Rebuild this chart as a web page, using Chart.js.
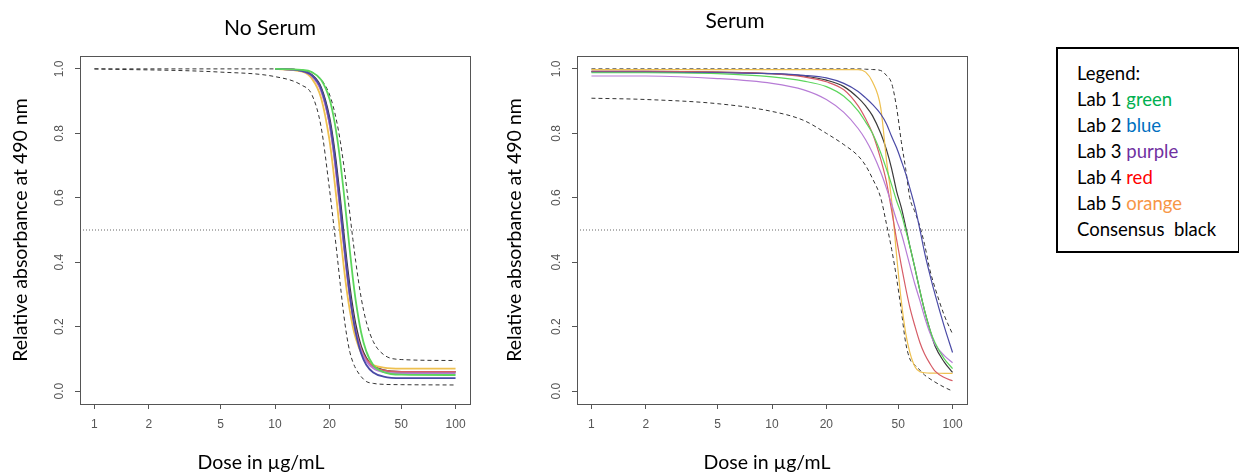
<!DOCTYPE html>
<html>
<head>
<meta charset="utf-8">
<title>No Serum / Serum</title>
<script src="https://cdn.jsdelivr.net/npm/chart.js"></script>
<style>
    body { margin: 0; width: 1239px; height: 474px; background: #fff; position: relative; overflow: hidden; font-family: Lato, sans-serif; }
    canvas { position: absolute; top: 0; }
    .lbl { position: absolute; transform: translate(-50%, -50%); white-space: nowrap; line-height: 1; color: #000; }
    .legend { position: absolute; left: 1056px; top: 47px; width: 184px; height: 206px; box-sizing: border-box;
              border: 2px solid #000; padding: 11px 0 0 19px; font-size: 18.5px; line-height: 26px; white-space: pre; }
</style>
</head>
<body>
<canvas id="chart" width="480" height="474" style="left:0"></canvas>
<canvas id="chart2" width="500" height="474" style="left:480px"></canvas>

<div class="lbl" style="left:270px; top:26px; font-size:21px">No Serum</div>
<div class="lbl" style="left:735px; top:19px; font-size:21px">Serum</div>
<div class="lbl" style="left:261px; top:462px; font-size:19.5px">Dose in µg/mL</div>
<div class="lbl" style="left:767px; top:462px; font-size:19.5px">Dose in µg/mL</div>

<div class="legend"><div>Legend:</div><div>Lab 1 <span style="color:#00b050">green</span></div><div>Lab 2 <span style="color:#0070c0">blue</span></div><div>Lab 3 <span style="color:#7030a0">purple</span></div><div>Lab 4 <span style="color:#ff0000">red</span></div><div>Lab 5 <span style="color:#f79646">orange</span></div><div>Consensus  black</div></div>

<script>
    // axes
    const xTicks = [1, 2, 5, 10, 20, 50, 100];
    const yTicks = [0, 0.2, 0.4, 0.6, 0.8, 1.0];
    const refLevel = 0.5;

    // No Serum panel (lab curves only fitted from 10 up)
    const noSerumDose     = [1,    5,    10,   14,   16,   18,   20,   21,   22,   23,   24,   25,   26,   27,   28,   30,   32,   35,   40,   50,   100];
    const noSerumLab1     = [null, null, 1.0,  .997, .990, .966, .908, .858, .793, .712, .621, .525, .433, .350, .281, .182, .124, .081, .059, .051, .050];
    const noSerumLab2     = [null, null, 1.0,  .994, .980, .938, .841, .765, .673, .572, .470, .376, .296, .232, .182, .117, .082, .058, .045, .040, .040];
    const noSerumLab3     = [null, null, 1.0,  .994, .978, .933, .832, .753, .659, .558, .459, .368, .291, .232, .184, .125, .093, .071, .059, .055, .055];
    const noSerumLab4     = [null, null, 1.0,  .994, .978, .933, .833, .755, .661, .560, .461, .371, .295, .236, .189, .130, .098, .076, .064, .060, .060];
    const noSerumLab5     = [null, null, 1.0,  .992, .970, .910, .781, .689, .587, .484, .390, .310, .248, .199, .164, .119, .097, .081, .073, .070, .070];
    const noSerumCons     = [null, null, 1.0,  .995, .981, .942, .850, .777, .689, .591, .491, .398, .319, .255, .205, .138, .103, .078, .065, .060, .060];
    const noSerumUpper    = [1.0,  1.0,  1.0,  .996, .989, .968, .922, .884, .835, .775, .704, .626, .548, .471, .402, .290, .216, .154, .113, .098, .095];
    const noSerumLower    = [1.0,  .990, .976, .950, .920, .820, .630, .530, .430, .330, .240, .170, .120, .090, .070, .045, .030, .024, .021, .020, .019];

    // Serum panel
    const serumDose  = [1,    2,    5,    10,   15,   20,   25,   30,   33,   36,   40,   43,   46,   49,   52,   55,   58,   62,   66,   70,   75,   80,   90,   100];
    const serumLab1  = [.988, .988, .985, .975, .962, .945, .915, .870, .835, .800, .740, .690, .640, .590, .550, .500, .450, .380, .310, .250, .190, .150, .100, .070];
    const serumLab2  = [.990, .990, .988, .985, .980, .972, .955, .930, .910, .890, .860, .830, .790, .755, .715, .675, .630, .570, .500, .430, .360, .300, .200, .120];
    const serumLab3  = [.978, .978, .970, .955, .935, .905, .865, .815, .780, .740, .680, .630, .580, .530, .490, .440, .390, .330, .280, .230, .180, .145, .110, .088];
    const serumLab4  = [.992, .992, .990, .985, .975, .960, .935, .885, .845, .800, .720, .650, .560, .470, .390, .320, .260, .200, .150, .115, .085, .062, .042, .032];
    const serumLab5  = [.998, .998, .998, .998, .998, .998, .998, .998, .990, .960, .880, .720, .590, .420, .280, .180, .120, .075, .060, .057, .056, .056, .055, .055];
    const serumCons  = [.992, .992, .990, .985, .978, .965, .945, .910, .885, .855, .800, .750, .690, .620, .570, .510, .450, .380, .310, .250, .190, .140, .090, .058];
    const serumUpper = [1.0,  1.0,  1.0,  1.0,  1.0,  1.0,  1.0,  1.0,  .999, .998, .995, .980, .955, .880, .775, .690, .600, .555, .510, .455, .375, .320, .235, .177];
    const serumLower = [.909, .905, .892, .868, .840, .800, .765, .730, .700, .660, .600, .520, .440, .350, .250, .150, .100, .080, .065, .050, .038, .028, .012, .000];

    const labColors = ['#5cd65c', '#4a4aa6', '#b77cd6', '#d65c66', '#eec050', '#3a3a3a'];
    const xMin = Math.pow(10, -0.08), xMax = Math.pow(10, 2.08);

    Chart.defaults.font.family = "'Liberation Sans', Arial, sans-serif";

    const boxPlugin = {
        id: 'box',
        afterDraw(chart) {
            const a = chart.chartArea, c = chart.ctx;
            c.save();
            c.strokeStyle = '#555';
            c.lineWidth = 1;
            c.strokeRect(Math.round(a.left) + 0.5, Math.round(a.top) + 0.5, Math.round(a.right - a.left), Math.round(a.bottom - a.top));
            c.restore();
        }
    };

    function pts(dose, vals) {
        return dose.map((d, i) => ({x: d, y: vals[i]}));
    }

    function newChart(ctx, dose, labs, upper, lower, yAxisWidth, rightPad, titlePad, solidWidth) {
        const sets = labs.map((vals, i) => ({
            data: pts(dose, vals),
            borderColor: labColors[i],
            borderWidth: solidWidth,
            pointRadius: 0,
            cubicInterpolationMode: 'monotone',
        }));
        [upper, lower].forEach(vals => sets.push({
            data: pts(dose, vals),
            borderColor: '#333',
            borderWidth: 1,
            borderDash: [4, 3],
            pointRadius: 0,
            cubicInterpolationMode: 'monotone',
        }));
        sets.push({
            data: [{x: xMin, y: refLevel}, {x: xMax, y: refLevel}],
            borderColor: '#666',
            borderWidth: 1,
            borderDash: [1, 2],
            pointRadius: 0,
        });
        return new Chart(ctx, {
            type: 'line',
            data: {datasets: sets},
            plugins: [boxPlugin],
            options: {
                responsive: false,
                animation: false,
                devicePixelRatio: 1,
                layout: {padding: {top: 56, right: rightPad, bottom: 0, left: 0}},
                plugins: {legend: {display: false}, tooltip: {enabled: false}},
                scales: {
                    x: {
                        type: 'logarithmic',
                        min: xMin,
                        max: xMax,
                        afterBuildTicks: s => { s.ticks = xTicks.map(v => ({value: v})); },
                        afterFit: s => { s.height = 70; },
                        grid: {drawOnChartArea: false, drawTicks: true, tickLength: 5, color: '#555'},
                        border: {display: false},
                        ticks: {autoSkip: false, maxRotation: 0, padding: 8, color: '#555', font: {size: 12},
                                callback: v => String(v)}
                    },
                    y: {
                        type: 'linear',
                        min: -0.04,
                        max: 1.04,
                        afterBuildTicks: s => { s.ticks = yTicks.map(v => ({value: v})); },
                        afterFit: s => { s.width = yAxisWidth; },
                        grid: {drawOnChartArea: false, drawTicks: true, tickLength: 5, color: '#555'},
                        border: {display: false},
                        ticks: {minRotation: 90, maxRotation: 90, crossAlign: 'center', padding: 7, color: '#555',
                                font: {size: 12}, callback: v => Number(v).toFixed(1)},
                        title: {display: true, text: 'Relative absorbance at 490 nm', color: '#000',
                                font: {family: 'Lato', size: 19.5}, padding: {top: titlePad, bottom: 0}}
                    }
                }
            }
        });
    }

    var ctx = document.getElementById('chart').getContext('2d');
    var noSerumChart = newChart(ctx, noSerumDose,
        [noSerumLab1, noSerumLab2, noSerumLab3, noSerumLab4, noSerumLab5, noSerumCons],
        noSerumUpper, noSerumLower, 80, 10, 9, 1.8);
    var ctx = document.getElementById('chart2').getContext('2d');
    var serumChart = newChart(ctx, serumDose,
        [serumLab1, serumLab2, serumLab3, serumLab4, serumLab5, serumCons],
        serumUpper, serumLower, 97, 13, 23, 1.2);
</script>
</body>
</html>
